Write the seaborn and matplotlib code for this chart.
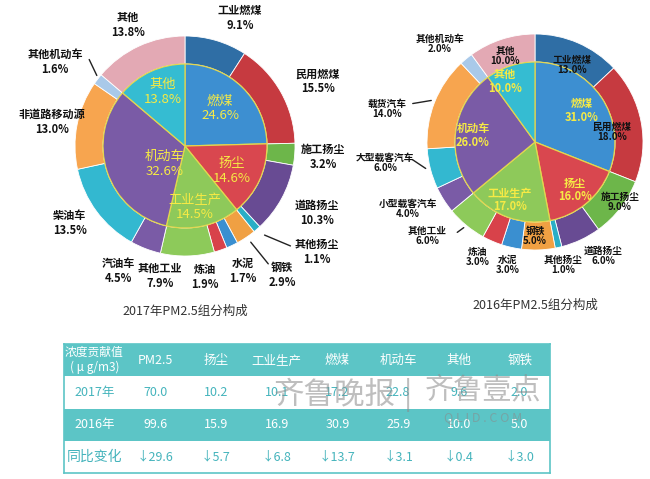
import seaborn as sns
import matplotlib.pyplot as plt
import numpy as np
from matplotlib.colors import ListedColormap

# inner ring: main source groups
groups = ['燃煤', '扬尘', '工业生产', '机动车', '其他']
share_2017 = [24.6, 14.6, 14.5, 32.6, 13.8]
share_2016 = [31.0, 16.0, 17.0, 26.0, 10.0]

# outer ring: sub sources (clockwise from 12 o'clock)
sub_2017 = ['工业燃煤', '民用燃煤', '施工扬尘', '道路扬尘', '其他扬尘', '钢铁', '水泥', '炼油',
            '其他工业', '汽油车', '柴油车', '非道路移动源', '其他机动车', '其他']
sub_share_2017 = [9.1, 15.5, 3.2, 10.3, 1.1, 2.9, 1.7, 1.9, 7.9, 4.5, 13.5, 13.0, 1.6, 13.8]
sub_2016 = ['工业燃煤', '民用燃煤', '施工扬尘', '道路扬尘', '其他扬尘', '钢铁', '水泥', '炼油',
            '其他工业', '小型载客汽车', '大型载客汽车', '载货汽车', '其他机动车', '其他']
sub_share_2016 = [13.0, 18.0, 9.0, 6.0, 1.0, 5.0, 3.0, 3.0, 6.0, 4.0, 6.0, 14.0, 2.0, 10.0]

# table
table_cols = ['PM2.5', '扬尘', '工业生产', '燃煤', '机动车', '其他', '钢铁']
conc_2017 = [70.0, 10.2, 10.1, 17.2, 22.8, 9.6, 2.0]
conc_2016 = [99.6, 15.9, 16.9, 30.9, 25.9, 10.0, 5.0]
yoy_drop = [29.6, 5.7, 6.8, 13.7, 3.1, 0.4, 3.0]

group_colors = ['#3d8fd1', '#d9474f', '#8ec95a', '#7a5ba6', '#35bcd2']
sub_colors = ['#2f6ea5', '#c63a40', '#6db64a', '#684b93', '#2aaec6', '#f0a043', '#3a8fd0',
              '#d8424a', '#8dca5a', '#7a5ba6', '#33b8d0', '#f7a54f', '#a9c9e9', '#e3a9b4']
teal = '#5cc5c6'
teal_text = '#45b4bc'
yellow = '#f6ea45'

sns.set_theme(style='white')
plt.rcParams['font.family'] = ['Noto Sans CJK SC', 'DejaVu Sans']

fig = plt.figure(figsize=(6.5, 4.79), dpi=100)
ax = fig.add_axes([0, 0, 1, 1])


def nested_pie(cx, cy, r_out, r_in, inner, outer):
    # y axis is flipped later, so counterclock=True reads clockwise on screen
    ax.pie(outer, radius=r_out, center=(cx, cy), colors=sub_colors, startangle=-90,
           counterclock=True, wedgeprops=dict(width=r_out - r_in, edgecolor='white', linewidth=0.6))
    ax.pie(inner, radius=r_in, center=(cx, cy), colors=group_colors, startangle=-90,
           counterclock=True, wedgeprops=dict(edgecolor='#e3d64e', linewidth=0.9))


nested_pie(185, 146, 110, 82, share_2017, sub_share_2017)
nested_pie(535, 142, 108, 80, share_2016, sub_share_2016)
ax.set_xlim(0, 650)
ax.set_ylim(479, 0)
ax.axis('off')

# label positions (pixels)
inner_pos_2017 = [(220, 108), (232, 171), (195, 207), (165, 164), (163, 92)]
outer_pos_2017 = [(240, 18), (318, 81), (323, 157), (317, 213), (317, 252), (282, 275), (243, 271),
                  (205, 277), (160, 276), (118, 271), (70, 223), (52, 122), (55, 62), (128, 25)]
inner_pos_2016 = [(582, 110), (575, 190), (510, 200), (473, 135), (505, 81)]
outer_pos_2016 = [(572, 65), (612, 132), (620, 202), (603, 256), (563, 265), (535, 236), (508, 265),
                  (478, 257), (427, 236), (408, 209), (385, 163), (387, 109), (440, 44), (505, 56)]

for name, v, (x, y) in zip(groups, share_2017, inner_pos_2017):
    ax.text(x, y, f'{name}\n{v:.1f}%', ha='center', va='center', color=yellow,
            fontsize=9.5, linespacing=1.15)
for name, v, (x, y) in zip(sub_2017, sub_share_2017, outer_pos_2017):
    ax.text(x, y, f'{name}\n{v:.1f}%', ha='center', va='center', color='#111111',
            fontsize=8, fontweight='bold', linespacing=1.15)
for name, v, (x, y) in zip(groups, share_2016, inner_pos_2016):
    ax.text(x, y, f'{name}\n{v:.1f}%', ha='center', va='center', color=yellow,
            fontsize=8, fontweight='bold', linespacing=1.1)
for name, v, (x, y) in zip(sub_2016, sub_share_2016, outer_pos_2016):
    ax.text(x, y, f'{name}\n{v:.1f}%', ha='center', va='center', color='#111111',
            fontsize=7, fontweight='bold', linespacing=1.1)

# leader lines
leaders = [((88, 57), (98, 78)), ((293, 247), (262, 234)), ((270, 266), (249, 240)),
           ((410, 104), (434, 100)), ((410, 158), (428, 170)), ((455, 234), (466, 226))]
for (x0, y0), (x1, y1) in leaders:
    ax.annotate('', xy=(x1, y1), xytext=(x0, y0),
                arrowprops=dict(arrowstyle='-', color='#222222', lw=1.0))

ax.text(185, 311, '2017年PM2.5组分构成', ha='center', va='center', fontsize=9, color='#333333')
ax.text(535, 305, '2016年PM2.5组分构成', ha='center', va='center', fontsize=9, color='#333333')

# table drawn as a heatmap: 0 = teal row, 1 = white row
row_type = np.array([[0] * 8, [1] * 8, [0] * 8, [1] * 8])
annot = np.array([
    ['浓度贡献值\n( μ g/m3)'] + table_cols,
    ['2017年'] + [f'{v:.1f}' for v in conc_2017],
    ['2016年'] + [f'{v:.1f}' for v in conc_2016],
    ['同比变化'] + [f'↓{v:.1f}' for v in yoy_drop],
])
tax = fig.add_axes([64 / 650, 6 / 479, 486 / 650, 129 / 479])
sns.heatmap(row_type, ax=tax, cmap=ListedColormap([teal, 'white']), vmin=0, vmax=1,
            annot=annot, fmt='', cbar=False, xticklabels=False, yticklabels=False,
            annot_kws=dict(fontsize=9))
for i, t in enumerate(tax.texts):
    row = i // 8
    t.set_color('white' if row in (0, 2) else teal_text)
    if row == 0 and i % 8 == 0:
        t.set_fontsize(8.5)
    if row == 3 and i % 8 == 0:
        t.set_fontsize(10)
for s in tax.spines.values():
    s.set_visible(True)
    s.set_edgecolor(teal)
    s.set_linewidth(1.2)

# watermark
wm = dict(color='#8a8a8a', alpha=0.55, ha='center', va='center')
fig.text(335 / 650, 1 - 395 / 479, '齐鲁晚报', fontsize=22, **wm)
fig.text(408 / 650, 1 - 395 / 479, '|', fontsize=22, **wm)
fig.text(483 / 650, 1 - 390 / 479, '齐鲁壹点', fontsize=21, **wm)
fig.text(483 / 650, 1 - 418 / 479, 'Q L I D . C O M', fontsize=9, **wm)

fig.savefig('out.png', dpi=100)
